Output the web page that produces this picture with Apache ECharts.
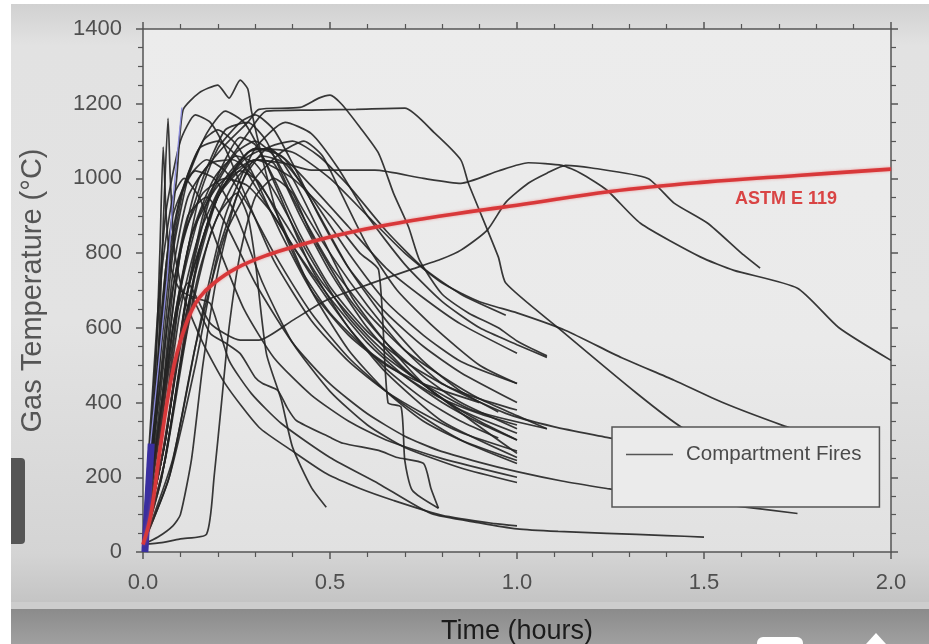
<!DOCTYPE html>
<html>
<head>
<meta charset="utf-8">
<script src="https://cdn.jsdelivr.net/npm/echarts@6/dist/echarts.min.js"></script>
<style>
html, body { margin: 0; padding: 0; background: #fff; }
#main { width: 929px; height: 644px; }
</style>
</head>
<body>
<div id="main"></div>
<script>
// time in hours, gas temperature in degC
var astmE119 = [[0,20],[0.02,95],[0.045,270],[0.065,405],[0.083,500],[0.1,565],[0.125,635],[0.15,680],[0.19,720],[0.25,760],[0.333,795],[0.417,821],[0.5,843],[0.583,862],[0.667,878],[0.75,892],[0.833,905],[0.917,917],[1.0,928],[1.25,965],[1.5,990],[1.75,1008],[2.0,1025]];

var fire01 = [[0,20],[0.03,350],[0.06,750],[0.09,1000],[0.107,1183],[0.15,1229],[0.2,1250],[0.23,1215],[0.26,1263],[0.28,1240],[0.29,1180],[0.32,1050],[0.36,900],[0.42,760],[0.5,640],[0.6,540],[0.7,470],[0.8,410],[0.9,370],[1.0,340]];
var fire02 = [[0,20],[0.05,400],[0.1,800],[0.15,1000],[0.22,1090],[0.28,1150],[0.31,1185],[0.42,1190],[0.47,1215],[0.5,1223],[0.53,1200],[0.58,1137],[0.63,1067],[0.67,960],[0.71,870],[0.74,780],[0.8,690],[0.87,640],[0.95,600],[1.0,565],[1.08,525]];
var fire03 = [[0,20],[0.05,350],[0.1,700],[0.15,900],[0.2,1000],[0.28,1120],[0.33,1180],[0.45,1183],[0.57,1185],[0.7,1188],[0.78,1121],[0.85,1049],[0.87,987],[0.95,790],[0.97,720],[1.11,600],[1.32,425],[1.44,334],[1.55,280]];
var fire04 = [[0,20],[0.04,250],[0.08,600],[0.13,850],[0.2,980],[0.3,1050],[0.38,1040],[0.45,1022],[0.62,1022],[0.75,1000],[0.85,987],[0.95,1020],[1.03,1042],[1.12,1035],[1.17,1014],[1.24,969],[1.33,880],[1.49,790],[1.58,754],[1.75,706],[1.86,601],[2.0,513]];
var fire05 = [[0,20],[0.04,300],[0.08,600],[0.12,720],[0.18,612],[0.26,567],[0.31,567],[0.4,620],[0.49,674],[0.61,719],[0.71,754],[0.8,785],[0.85,808],[0.92,861],[0.97,936],[1.03,987],[1.08,1014],[1.13,1035],[1.2,1028],[1.35,1000],[1.42,934],[1.51,880],[1.6,800],[1.65,760]];
var fire06 = [[0,20],[0.06,300],[0.12,700],[0.2,950],[0.3,1080],[0.4,1070],[0.5,1000],[0.6,900],[0.7,800],[0.8,720],[0.9,670],[1.0,640],[1.13,593],[1.28,520],[1.42,460],[1.55,400],[1.71,339],[1.8,310]];
var fire07 = [[0,20],[0.06,300],[0.12,700],[0.18,950],[0.25,1070],[0.3,1100],[0.35,1060],[0.42,930],[0.5,800],[0.6,660],[0.7,540],[0.8,451],[0.97,371],[1.1,335],[1.24,307],[1.45,265]];
var fire08 = [[0,20],[0.04,300],[0.08,700],[0.12,900],[0.17,950],[0.22,880],[0.3,720],[0.4,560],[0.5,450],[0.6,370],[0.7,310],[0.79,272],[0.9,240],[1.0,215],[1.12,190],[1.24,170],[1.4,145],[1.57,125],[1.75,103]];
var fire09 = [[0,20],[0.03,400],[0.045,800],[0.054,1084],[0.062,900],[0.075,760],[0.1,700],[0.14,680],[0.18,665],[0.23,513],[0.29,424],[0.37,344],[0.5,253],[0.63,183],[0.77,103],[0.9,78],[1.0,62],[1.11,55],[1.24,50],[1.4,44],[1.5,40]];
var fire10 = [[0,20],[0.035,400],[0.055,900],[0.067,1161],[0.073,1000],[0.085,800],[0.11,680],[0.16,560],[0.22,450],[0.31,334],[0.4,270],[0.49,210],[0.58,170],[0.67,138],[0.8,98],[0.94,76],[1.0,70]];
var fire11 = [[0,20],[0.05,200],[0.1,500],[0.15,750],[0.2,900],[0.25,960],[0.28,900],[0.3,780],[0.33,531],[0.37,406],[0.4,280],[0.45,173],[0.49,120]];
var fire12 = [[0,20],[0.05,250],[0.09,500],[0.13,680],[0.18,585],[0.22,560],[0.26,531],[0.3,467],[0.32,451],[0.36,433],[0.385,387],[0.41,352],[0.5,307],[0.535,291],[0.63,272],[0.68,253],[0.75,237],[0.77,170],[0.79,117]];
var fire13 = [[0,20],[0.06,300],[0.12,700],[0.2,950],[0.3,1050],[0.4,1000],[0.5,900],[0.58,800],[0.63,755],[0.655,400],[0.69,388],[0.7,245],[0.72,165],[0.79,117]];
var fire14 = [[0,20],[0.05,25],[0.1,35],[0.17,48],[0.19,200],[0.21,400],[0.23,600],[0.26,800],[0.3,950],[0.35,1000],[0.4,960],[0.45,850],[0.55,680],[0.65,560],[0.75,470],[0.85,400],[1.0,330]];
var fire15 = [[0,20],[0.04,40],[0.08,70],[0.1,100],[0.13,250],[0.16,500],[0.2,750],[0.25,950],[0.3,1050],[0.35,1040],[0.42,900],[0.5,750],[0.6,600],[0.7,490],[0.8,410],[0.9,350],[1.0,300]];
var fire16 = [[0,20],[0.03,300],[0.06,700],[0.1,950],[0.15,1080],[0.2,1100],[0.25,1060],[0.3,980],[0.4,820],[0.5,680],[0.6,560],[0.7,470],[0.8,400],[0.9,345],[1.0,300]];
var fire17 = [[0,20],[0.04,350],[0.08,750],[0.12,950],[0.18,1040],[0.24,1050],[0.3,1000],[0.38,880],[0.48,720],[0.6,580],[0.72,470],[0.85,380],[1.0,318]];
var fire18 = [[0,20],[0.05,400],[0.1,800],[0.16,1000],[0.22,1130],[0.28,1150],[0.33,1100],[0.4,950],[0.5,770],[0.6,640],[0.7,540],[0.8,470],[0.9,410],[1.0,365],[1.08,330]];
var fire19 = [[0,20],[0.02,250],[0.05,650],[0.08,900],[0.12,1000],[0.17,1050],[0.22,1020],[0.28,930],[0.35,800],[0.45,640],[0.55,520],[0.65,430],[0.75,360],[0.85,300],[1.0,245]];
var fire20 = [[0,20],[0.03,300],[0.07,650],[0.11,850],[0.16,960],[0.22,1000],[0.28,980],[0.35,900],[0.45,740],[0.55,600],[0.65,480],[0.8,350],[1.0,253]];
var fire21 = [[0,20],[0.05,200],[0.1,500],[0.15,800],[0.2,950],[0.27,1050],[0.33,1080],[0.38,1050],[0.45,940],[0.55,760],[0.65,620],[0.75,510],[0.85,430],[0.95,375]];
var fire22 = [[0,20],[0.07,200],[0.14,500],[0.2,800],[0.27,1000],[0.33,1080],[0.4,1100],[0.47,1060],[0.55,980],[0.65,860],[0.75,760],[0.85,690],[0.97,634]];
var fire23 = [[0,20],[0.05,300],[0.1,650],[0.15,850],[0.22,1000],[0.3,1080],[0.37,1060],[0.45,980],[0.55,870],[0.65,760],[0.75,680],[0.85,610],[1.0,532]];
var fire24 = [[0,20],[0.08,250],[0.15,600],[0.22,900],[0.3,1080],[0.38,1150],[0.45,1120],[0.52,1030],[0.6,900],[0.7,770],[0.8,670],[0.9,600],[1.0,555],[1.08,521]];
var fire25 = [[0,20],[0.06,250],[0.12,600],[0.18,850],[0.25,1000],[0.32,1060],[0.38,1040],[0.45,950],[0.55,800],[0.65,670],[0.75,580],[0.85,510],[1.0,451]];
var fire26 = [[0,20],[0.02,200],[0.04,500],[0.07,800],[0.1,950],[0.14,1020],[0.19,1000],[0.25,900],[0.32,720],[0.4,560],[0.5,430],[0.6,340],[0.7,280],[0.85,225],[1.0,186]];
var fire27 = [[0,20],[0.04,300],[0.08,600],[0.13,850],[0.19,1000],[0.25,1060],[0.3,1040],[0.36,950],[0.44,800],[0.54,640],[0.64,530],[0.75,450],[0.88,380],[1.08,330]];
var fire28 = [[0,20],[0.05,250],[0.1,550],[0.15,800],[0.2,960],[0.26,1020],[0.31,990],[0.37,880],[0.45,700],[0.55,540],[0.65,430],[0.75,350],[0.87,290],[1.0,237]];
var fire29 = [[0,20],[0.06,250],[0.13,700],[0.2,950],[0.28,1070],[0.34,1080],[0.4,1000],[0.48,840],[0.56,680],[0.65,560],[0.75,450],[0.88,350],[1.0,264]];
var fire30 = [[0,20],[0.07,200],[0.14,550],[0.22,850],[0.3,1000],[0.37,1070],[0.43,1100],[0.48,1060],[0.53,960],[0.6,820],[0.68,700],[0.78,600],[0.9,500],[1.0,451]];
var fire31 = [[0,20],[0.04,400],[0.08,800],[0.12,1000],[0.17,1120],[0.22,1180],[0.27,1150],[0.32,1060],[0.38,920],[0.45,760],[0.55,600],[0.65,490],[0.75,410],[0.85,350],[0.95,305]];
var fire32 = [[0,20],[0.05,300],[0.1,700],[0.15,950],[0.2,1080],[0.26,1150],[0.3,1170],[0.35,1130],[0.4,1040],[0.47,900],[0.55,760],[0.65,640],[0.75,550],[0.85,480],[1.0,400]];
var fire33 = [[0,20],[0.03,500],[0.06,900],[0.1,1100],[0.14,1170],[0.18,1150],[0.22,1080],[0.28,940],[0.35,780],[0.45,620],[0.55,510],[0.65,430],[0.75,370],[0.85,320],[1.0,270]];
var fire34 = [[0,20],[0.02,300],[0.05,750],[0.08,950],[0.11,1000],[0.15,950],[0.2,820],[0.27,650],[0.35,520],[0.45,420],[0.55,350],[0.65,300],[0.8,250],[1.0,200]];
var fire35 = [[0,20],[0.06,300],[0.11,650],[0.16,900],[0.21,1030],[0.26,1110],[0.3,1090],[0.35,1000],[0.42,850],[0.5,710],[0.6,590],[0.7,510],[0.8,450],[0.9,410],[1.0,380]];
var fire36 = [[0,20],[0.03,350],[0.07,750],[0.11,980],[0.16,1100],[0.2,1130],[0.25,1090],[0.3,1000],[0.37,850],[0.45,700],[0.55,580],[0.65,500],[0.75,450],[0.9,400]];

// the blue instrument traces near the origin
var blueBar = [[0.005,0],[0.022,290]];
var blueTrace = [[0.02,290],[0.064,727],[0.08,942],[0.104,1190]];

var fires = [fire01, fire02, fire03, fire04, fire05, fire06, fire07, fire08, fire09, fire10,
  fire11, fire12, fire13, fire14, fire15, fire16, fire17, fire18, fire19, fire20,
  fire21, fire22, fire23, fire24, fire25, fire26, fire27, fire28, fire29, fire30,
  fire31, fire32, fire33, fire34, fire35, fire36];

var myChart = echarts.init(document.getElementById('main'));

var axisLineStyle = { color: '#555', width: 1.5 };
var labelFont = 'Liberation Sans, Arial, sans-serif';

var series = fires.map(function (d) {
  return {
    name: 'Compartment Fires',
    type: 'line',
    data: d,
    showSymbol: false,
    smooth: 0.2,
    silent: true,
    lineStyle: { color: '#242424', width: 1.7, opacity: 0.9 },
    itemStyle: { color: '#242424' },
    z: 2
  };
});

series.push({
  name: 'blueBar', type: 'line', data: blueBar, showSymbol: false, silent: true,
  lineStyle: { color: '#3a2fa0', width: 7 }, z: 3
});
series.push({
  name: 'blueTrace', type: 'line', data: blueTrace, showSymbol: false, silent: true, smooth: 0.3,
  lineStyle: { color: '#8c8cdc', width: 1.3 }, z: 3
});
series.push({
  name: 'ASTM E 119', type: 'line', data: astmE119, showSymbol: false, silent: true, smooth: 0.4,
  lineStyle: { color: '#d8383a', width: 3.6, shadowBlur: 3, shadowColor: 'rgba(235,90,90,0.6)' },
  z: 4
});

var option = {
  animation: false,
  backgroundColor: {
    type: 'linear', x: 0, y: 0, x2: 0, y2: 1,
    colorStops: [
      { offset: 0, color: '#cfcfcf' },
      { offset: 0.07, color: '#e2e2e2' },
      { offset: 0.5, color: '#e3e3e3' },
      { offset: 0.86, color: '#d4d4d4' },
      { offset: 0.94, color: '#c3c3c3' },
      { offset: 1, color: '#c3c3c3' }
    ]
  },
  grid: {
    left: 143, right: 38, top: 29, bottom: 92,
    containLabel: false,
    outerBoundsMode: 'none',
    show: true, borderWidth: 0,
    backgroundColor: {
      type: 'linear', x: 0, y: 0, x2: 0, y2: 1,
      colorStops: [{ offset: 0, color: '#ececec' }, { offset: 0.6, color: '#eaeaea' }, { offset: 1, color: '#e1e1e1' }]
    }
  },
  legend: {
    data: ['Compartment Fires'],
    left: 612, top: 427,
    selectedMode: false,
    backgroundColor: '#ebebeb',
    borderColor: '#555',
    borderWidth: 1.5,
    padding: [17, 18, 42, 14],
    icon: 'rect',
    itemWidth: 47,
    itemHeight: 1.6,
    itemStyle: { color: '#555' },
    textStyle: { fontSize: 20.5, color: '#4a4a4a', fontFamily: labelFont, padding: [0, 0, 0, 8] }
  },
  xAxis: [
    {
      type: 'value', min: 0, max: 2, interval: 0.5, position: 'bottom',
      axisLine: { onZero: false, lineStyle: axisLineStyle },
      axisTick: { length: 7, lineStyle: axisLineStyle },
      minorTick: { show: true, splitNumber: 5, length: 5, lineStyle: { color: '#555', width: 1.2 } },
      splitLine: { show: false },
      axisLabel: { fontSize: 22, color: '#4f4f4f', fontFamily: labelFont, margin: 20,
        formatter: function (v) { return v.toFixed(1); } },
      name: 'Time (hours)', nameLocation: 'middle', nameGap: 66,
      nameTextStyle: { fontSize: 27, color: '#1c1c1c', fontFamily: labelFont }
    },
    {
      type: 'value', min: 0, max: 2, interval: 0.5, position: 'top',
      axisLine: { onZero: false, lineStyle: axisLineStyle },
      axisTick: { length: 7, lineStyle: axisLineStyle },
      minorTick: { show: true, splitNumber: 5, length: 5, lineStyle: { color: '#555', width: 1.2 } },
      splitLine: { show: false },
      axisLabel: { show: false }
    }
  ],
  yAxis: [
    {
      type: 'value', min: 0, max: 1400, interval: 200, position: 'left',
      axisLine: { show: true, onZero: false, lineStyle: axisLineStyle },
      axisTick: { show: true, length: 7, lineStyle: axisLineStyle },
      minorTick: { show: true, splitNumber: 4, length: 5, lineStyle: { color: '#555', width: 1.2 } },
      splitLine: { show: false },
      axisLabel: { fontSize: 22, color: '#4f4f4f', fontFamily: labelFont, margin: 21,
        formatter: function (v) { return String(v); } },
      name: 'Gas Temperature (°C)', nameLocation: 'middle', nameGap: 96,
      nameTextStyle: { fontSize: 29, color: '#555', fontFamily: labelFont }
    },
    {
      type: 'value', min: 0, max: 1400, interval: 200, position: 'right',
      axisLine: { show: true, onZero: false, lineStyle: axisLineStyle },
      axisTick: { show: true, length: 7, lineStyle: axisLineStyle },
      minorTick: { show: true, splitNumber: 4, length: 5, lineStyle: { color: '#555', width: 1.2 } },
      splitLine: { show: false },
      axisLabel: { show: false }
    }
  ],
  graphic: [
    { type: 'rect', z: -1, shape: { x: 0, y: 602, width: 929, height: 7 }, style: { fill: '#cdcdcd' } },
    { type: 'rect', z: -1, shape: { x: 0, y: 609, width: 929, height: 35 },
      style: { fill: { type: 'linear', x: 0, y: 0, x2: 0, y2: 1,
        colorStops: [{ offset: 0, color: '#8b8b8b' }, { offset: 1, color: '#a0a0a0' }] } } },
    { type: 'rect', z: -1, shape: { x: 0, y: 0, width: 929, height: 4 }, style: { fill: '#ffffff' } },
    { type: 'rect', z: -1, shape: { x: 0, y: 0, width: 11, height: 644 }, style: { fill: '#ffffff' } },
    { type: 'rect', z: -1, shape: { x: 11, y: 458, width: 14, height: 86, r: [0, 4, 4, 0] }, style: { fill: '#555555' } },
    { type: 'rect', z: -1, shape: { x: 757, y: 637, width: 46, height: 14, r: 6 }, style: { fill: '#ffffff' } },
    { type: 'polygon', z: -1, shape: { points: [[866, 644], [876, 633], [886, 644]] }, style: { fill: '#ffffff' } },
    { type: 'text', left: 735, top: 190, z: 10,
      style: { text: 'ASTM E 119', fill: '#d94444', font: 'bold 18px Liberation Sans, Arial, sans-serif' } }
  ],
  series: series
};

myChart.setOption(option);
</script>
</body>
</html>
